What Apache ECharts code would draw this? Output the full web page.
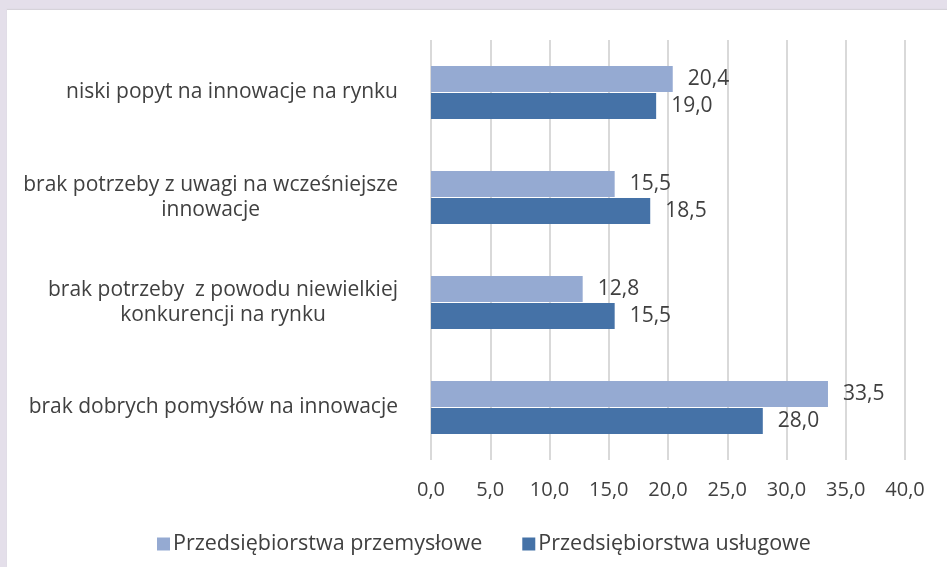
<!DOCTYPE html>
<html>
<head>
<meta charset="utf-8">
<script src="https://cdn.jsdelivr.net/npm/echarts@6/dist/echarts.min.js"></script>
<style>
    html, body { margin: 0; padding: 0; background: #e4dfea; }
    #chart {
        position: absolute; left: 7px; top: 10px; width: 940px; height: 557px;
        background: #ffffff; box-shadow: 0 -1px 1px #d6d3da;
    }
</style>
</head>
<body>
<div id="chart"></div>
<script>
// kategorie (od góry)
var categories = [
    'niski popyt na innowacje na rynku',
    'brak potrzeby z uwagi na wcześniejsze\ninnowacje',
    'brak potrzeby  z powodu niewielkiej\nkonkurencji na rynku',
    'brak dobrych pomysłów na innowacje'
];
var seriesNames = ['Przedsiębiorstwa przemysłowe', 'Przedsiębiorstwa usługowe'];
var przemyslowe = [20.4, 15.5, 12.8, 33.5];
var uslugowe = [19.0, 18.5, 15.5, 28.0];

var textColor = '#404040';
var fontFamily = '"Open Sans", "Noto Sans", sans-serif';

function fmt(v) {
    return Number(v).toFixed(1).replace('.', ',');
}

var myChart = echarts.init(document.getElementById('chart'));

var labelStyle = {
    show: true,
    position: 'right',
    distance: 15,
    color: textColor,
    fontSize: 21,
    fontFamily: fontFamily,
    formatter: function (p) { return fmt(p.value); }
};

var option = {
    animation: false,
    textStyle: { fontFamily: fontFamily },
    legend: {
        data: seriesNames,
        left: 145,
        top: 518,
        icon: 'rect',
        itemWidth: 13,
        itemHeight: 13,
        itemGap: 40,
        textStyle: { color: textColor, fontSize: 21.5, fontFamily: fontFamily, padding: [0, 0, 0, -2] }
    },
    grid: {
        left: 424,
        right: 42,
        top: 30,
        bottom: 107,
        containLabel: false
    },
    xAxis: {
        type: 'value',
        min: 0,
        max: 40,
        interval: 5,
        axisLine: { show: false },
        axisTick: { show: false },
        axisLabel: {
            margin: 20,
            color: textColor,
            fontSize: 20,
            fontFamily: fontFamily,
            formatter: function (v) { return fmt(v); }
        },
        splitLine: { show: true, lineStyle: { color: '#d9d9d9', width: 2 } }
    },
    yAxis: {
        type: 'category',
        inverse: true,
        data: categories,
        axisLine: { show: false },
        axisTick: { show: false },
        axisLabel: {
            margin: 33,
            align: 'right',
            formatter: function (v) {
                return v.split('\n').map(function (l) { return '{c|' + l + '}'; }).join('\n');
            },
            rich: {
                c: { align: 'center', color: textColor, fontSize: 21, fontFamily: fontFamily, lineHeight: 25 }
            }
        }
    },
    series: [{
        name: seriesNames[0],
        type: 'bar',
        barWidth: 26,
        barGap: '4%',
        color: '#95aad2',
        label: labelStyle,
        data: przemyslowe
    }, {
        name: seriesNames[1],
        type: 'bar',
        barWidth: 26,
        barGap: '4%',
        color: '#4572a7',
        label: labelStyle,
        data: uslugowe
    }]
};
myChart.setOption(option);
</script>
</body>
</html>
